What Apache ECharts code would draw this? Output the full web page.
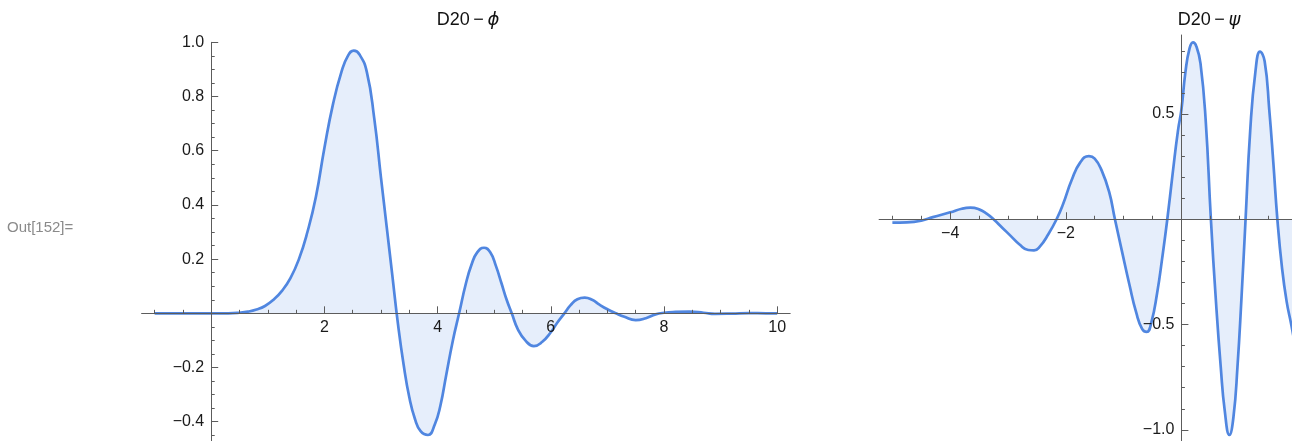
<!DOCTYPE html>
<html>
<head>
<meta charset="utf-8">
<script src="https://cdn.jsdelivr.net/npm/echarts@6/dist/echarts.min.js"></script>
<style>
html,body{margin:0;padding:0;background:#fff;}
#chart{width:1292px;height:441px;}
</style>
</head>
<body>
<div id="chart"></div>
<script>
// ---------- data ----------
const phiX = [-1.0, -0.5, 0.0, 0.3, 0.5, 0.65, 0.8, 0.95, 1.1, 1.25, 1.4, 1.55, 1.7, 1.85, 2.0, 2.15, 2.3, 2.42, 2.52, 2.62, 2.75, 2.88, 3.0, 3.1, 3.2, 3.3, 3.4, 3.5, 3.6, 3.7, 3.83, 3.95, 4.05, 4.15, 4.27, 4.38, 4.5, 4.6, 4.7, 4.82, 4.93, 5.03, 5.13, 5.22, 5.31, 5.42, 5.55, 5.7, 5.85, 6.0, 6.12, 6.24, 6.35, 6.47, 6.6, 6.73, 6.86, 7.0, 7.15, 7.3, 7.5, 7.68, 7.85, 8.0, 8.2, 8.45, 8.7, 8.9, 9.2, 9.5, 9.8, 10.0];
const phiY = [0, 0, 0, 0, 0.002, 0.006, 0.014, 0.027, 0.05, 0.083, 0.13, 0.2, 0.3, 0.43, 0.61, 0.77, 0.89, 0.952, 0.969, 0.955, 0.89, 0.72, 0.5, 0.32, 0.14, -0.04, -0.19, -0.31, -0.39, -0.435, -0.449, -0.41, -0.34, -0.23, -0.1, 0.0, 0.11, 0.18, 0.225, 0.242, 0.225, 0.175, 0.11, 0.05, 0.0, -0.06, -0.1, -0.121, -0.105, -0.07, -0.033, 0.0, 0.03, 0.052, 0.058, 0.05, 0.032, 0.015, 0.0, -0.013, -0.025, -0.018, -0.004, 0.002, 0.005, 0.006, 0.002, -0.002, -0.001, 0.001, 0.0, 0.0];

const psiX = [-5.0, -4.75, -4.5, -4.3, -4.0, -3.8, -3.65, -3.5, -3.37, -3.25, -3.1, -2.95, -2.8, -2.65, -2.55, -2.45, -2.3, -2.16, -2.05, -1.9, -1.75, -1.6, -1.5, -1.38, -1.25, -1.15, -1.03, -0.9, -0.78, -0.68, -0.6, -0.52, -0.42, -0.33, -0.244, -0.15, -0.06, 0.0, 0.07, 0.14, 0.2, 0.26, 0.33, 0.42, 0.51, 0.6, 0.68, 0.75, 0.83, 0.9, 0.97, 1.04, 1.11, 1.19, 1.28, 1.36, 1.44, 1.52, 1.59, 1.66, 1.74, 1.82, 1.9, 1.98];
const psiY = [-0.016, -0.015, -0.007, 0.01, 0.033, 0.05, 0.055, 0.047, 0.027, 0.0, -0.04, -0.08, -0.12, -0.146, -0.148, -0.13, -0.07, 0.0, 0.07, 0.185, 0.27, 0.30, 0.288, 0.232, 0.13, 0.0, -0.15, -0.31, -0.445, -0.52, -0.535, -0.49, -0.35, -0.18, 0.0, 0.22, 0.42, 0.52, 0.7, 0.81, 0.84, 0.82, 0.74, 0.47, 0.0, -0.4, -0.7, -0.91, -1.024, -0.94, -0.7, -0.37, 0.0, 0.42, 0.7, 0.796, 0.75, 0.52, 0.27, 0.0, -0.23, -0.39, -0.5, -0.62];

// tick positions and labels
const phiXMajorTicks = [2, 4, 6, 8, 10];
const phiXMinorTicks = [-1, -0.5, 0, 0.5, 1, 1.5, 2, 2.5, 3, 3.5, 4, 4.5, 5, 5.5, 6, 6.5, 7, 7.5, 8, 8.5, 9, 9.5, 10];
const phiXLabels = [2, 4, 6, 8, 10];
const phiYMajorTicks = [-0.4, -0.2, 0.2, 0.4, 0.6, 0.8, 1.0];
const phiYMinorTicks = [-0.45, -0.4, -0.35, -0.3, -0.25, -0.2, -0.15, -0.1, -0.05, 0.05, 0.1, 0.15, 0.2, 0.25, 0.3, 0.35, 0.4, 0.45, 0.5, 0.55, 0.6, 0.65, 0.7, 0.75, 0.8, 0.85, 0.9, 0.95, 1.0];
const phiYLabels = [-0.4, -0.2, 0.2, 0.4, 0.6, 0.8, 1.0];

const psiXMajorTicks = [-4, -2, 2, 4, 6];
const psiXMinorTicks = [-5, -4.5, -4, -3.5, -3, -2.5, -2, -1.5, -1, -0.5, 0.5, 1, 1.5, 2, 2.5, 3, 3.5, 4, 4.5, 5, 5.5, 6];
const psiXLabels = [-4, -2, 2, 4, 6];
const psiYMajorTicks = [-1.0, -0.5, 0.5];
const psiYMinorTicks = [-1.0, -0.9, -0.8, -0.7, -0.6, -0.5, -0.4, -0.3, -0.2, -0.1, 0.1, 0.2, 0.3, 0.4, 0.5, 0.6, 0.7, 0.8];
const psiYLabels = [-1.0, -0.5, 0.5];

const titles = ['D20\u2009\u2212\u2009', 'D20\u2009\u2212\u2009'];
const greek = ['\u03D5', '\u03C8'];

// ---------- styling / layout ----------
const FONT = '"Liberation Sans", Arial, Helvetica, sans-serif';
const LINE = '#5086e0';
const FILL = 'rgba(80,134,224,0.2)';
const AX = '#5c5c5c';
const LBL = '#1a1a1a';

const frames = [
  { left: 141.6, top: 42.3, width: 648.6, height: 401.1, xmin: -1.23, xmax: 10.23, ymin: -0.48, ymax: 1.0 },
  { left: 879.1, top: 35.0, width: 657.8, height: 407.5, xmin: -5.23, xmax: 6.15, ymin: -1.06, ymax: 0.875 }
];

const fmtInt = v => (v < 0 ? '\u2212' : '') + String(Math.abs(Math.round(v)));
const fmt1 = v => (v < 0 ? '\u2212' : '') + Math.abs(v).toFixed(1);

function zeroX(f) { return (0 - f.xmin) / (f.xmax - f.xmin) * f.width; }
function zeroY(f) { return (f.ymax - 0) / (f.ymax - f.ymin) * f.height; }

function xAxes(g, major, minor, labels) {
  const f = frames[g];
  const zy = zeroY(f);
  return [
    { gridIndex: g, type: 'value', position: 'bottom', min: f.xmin, max: f.xmax, z: 3,
      offset: -(f.height - zy),
      axisLine: { onZero: false, lineStyle: { color: AX, width: 1 } },
      axisTick: { inside: true, length: 7, customValues: major, lineStyle: { color: AX, width: 1 } },
      axisLabel: { customValues: labels, formatter: fmtInt, margin: 6, color: LBL, fontSize: 16, fontFamily: FONT, hideOverlap: false },
      splitLine: { show: false } },
    { gridIndex: g, type: 'value', position: 'top', min: f.xmin, max: f.xmax, z: 3,
      offset: -zy,
      axisLine: { show: false, onZero: false },
      axisTick: { inside: false, length: 3.5, customValues: minor, lineStyle: { color: AX, width: 1 } },
      axisLabel: { show: false },
      splitLine: { show: false } }
  ];
}
function yAxes(g, major, minor, labels) {
  const f = frames[g];
  const zx = zeroX(f);
  return [
    { gridIndex: g, type: 'value', position: 'left', min: f.ymin, max: f.ymax, z: 3,
      offset: -zx,
      axisLine: { onZero: false, lineStyle: { color: AX, width: 1 } },
      axisTick: { inside: true, length: 7, customValues: major, lineStyle: { color: AX, width: 1 } },
      axisLabel: { customValues: labels, formatter: fmt1, margin: 7, color: LBL, fontSize: 16, fontFamily: FONT, hideOverlap: false },
      splitLine: { show: false } },
    { gridIndex: g, type: 'value', position: 'right', min: f.ymin, max: f.ymax, z: 3,
      offset: -(f.width - zx),
      axisLine: { show: false, onZero: false },
      axisTick: { inside: false, length: 3.5, customValues: minor, lineStyle: { color: AX, width: 1 } },
      axisLabel: { show: false },
      splitLine: { show: false } }
  ];
}

const zip = (xs, ys) => xs.map((x, i) => [x, ys[i]]);

const titleRich = {
  a: { fontSize: 18, fontFamily: FONT, fill: '#111', color: '#111' },
  b: { fontSize: 18, fontFamily: '"DejaVu Sans", sans-serif', fontStyle: 'italic', fill: '#111', color: '#111' }
};

const chart = echarts.init(document.getElementById('chart'), null, { renderer: 'canvas' });
chart.setOption({
  animation: false,
  backgroundColor: '#ffffff',
  grid: frames.map(f => ({ left: f.left, top: f.top, width: f.width, height: f.height, show: false,
    containLabel: false, outerBoundsMode: 'none' })),
  xAxis: [
    ...xAxes(0, phiXMajorTicks, phiXMinorTicks, phiXLabels),
    ...xAxes(1, psiXMajorTicks, psiXMinorTicks, psiXLabels)
  ],
  yAxis: [
    ...yAxes(0, phiYMajorTicks, phiYMinorTicks, phiYLabels),
    ...yAxes(1, psiYMajorTicks, psiYMinorTicks, psiYLabels)
  ],
  series: [
    { name: 'D20-phi', type: 'line', xAxisIndex: 0, yAxisIndex: 0, data: zip(phiX, phiY),
      showSymbol: false, smooth: 0.5, z: 1, silent: true,
      lineStyle: { color: LINE, width: 2.7 }, areaStyle: { color: FILL, origin: 0 } },
    { name: 'D20-psi', type: 'line', xAxisIndex: 2, yAxisIndex: 2, data: zip(psiX, psiY),
      showSymbol: false, smooth: 0.5, z: 1, silent: true,
      lineStyle: { color: LINE, width: 2.7 }, areaStyle: { color: FILL, origin: 0 } }
  ],
  graphic: [
    { type: 'text', x: 468, y: 11, z: 10, silent: true,
      style: { text: '{a|' + titles[0] + '}{b|' + greek[0] + '}', align: 'center', textAlign: 'center', verticalAlign: 'top', rich: titleRich } },
    { type: 'text', x: 1209, y: 11, z: 10, silent: true,
      style: { text: '{a|' + titles[1] + '}{b|' + greek[1] + '}', align: 'center', textAlign: 'center', verticalAlign: 'top', rich: titleRich } },
    { type: 'text', x: 7, y: 228, silent: true,
      style: { text: 'Out[152]=', fill: '#8a8a8a', font: '15px ' + FONT, verticalAlign: 'middle', textVerticalAlign: 'middle' } }
  ]
});
</script>
</body>
</html>
